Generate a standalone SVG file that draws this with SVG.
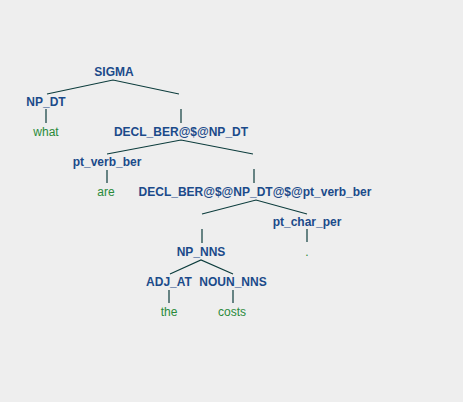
<svg xmlns="http://www.w3.org/2000/svg" width="463" height="402" viewBox="0 0 463 402">
<style>
.n{font-family:"Liberation Sans",Arial,sans-serif;font-size:12px;font-weight:bold;fill:#1b4a8a;text-anchor:middle}
.l{font-family:"Liberation Sans",Arial,sans-serif;font-size:12px;fill:#2a8a3a;text-anchor:middle}
.e{stroke:#0c3c3c;stroke-width:1.2;fill:none}
</style>
<rect width="463" height="402" fill="#eeeeee"/>
<g id="connectors" class="e">
<polyline points="47,94 113,80 179,94"/>
<line x1="46" y1="109" x2="46" y2="123"/>
<line x1="181" y1="109" x2="181" y2="123"/>
<polyline points="107,154 181,140 253,154"/>
<line x1="107" y1="170" x2="107" y2="183"/>
<line x1="254" y1="169" x2="254" y2="183"/>
<polyline points="202,214 256,200 307,214"/>
<line x1="202" y1="229" x2="202" y2="243"/>
<line x1="307" y1="229" x2="307" y2="242"/>
<polyline points="170,274 201,260 233,274"/>
<line x1="169" y1="290" x2="169" y2="303"/>
<line x1="233" y1="290" x2="233" y2="303"/>
</g>
<g id="SIGMA"><text class="n" x="114" y="76">SIGMA</text></g>
<g id="NP_DT"><text class="n" x="46" y="106">NP_DT</text></g>
<g id="what"><text class="l" x="46" y="136">what</text></g>
<g id="DECL1"><text class="n" x="181" y="136">DECL_BER@$@NP_DT</text></g>
<g id="pt_verb_ber"><text class="n" x="107" y="166">pt_verb_ber</text></g>
<g id="are"><text class="l" x="106" y="196">are</text></g>
<g id="DECL2"><text class="n" x="255" y="196">DECL_BER@$@NP_DT@$@pt_verb_ber</text></g>
<g id="pt_char_per"><text class="n" x="307" y="226">pt_char_per</text></g>
<g id="period"><text class="l" x="307" y="256">.</text></g>
<g id="NP_NNS"><text class="n" x="201" y="256">NP_NNS</text></g>
<g id="ADJ_AT"><text class="n" x="169" y="286">ADJ_AT</text></g>
<g id="NOUN_NNS"><text class="n" x="233" y="286">NOUN_NNS</text></g>
<g id="the"><text class="l" x="169" y="316">the</text></g>
<g id="costs"><text class="l" x="232" y="316">costs</text></g>
</svg>
